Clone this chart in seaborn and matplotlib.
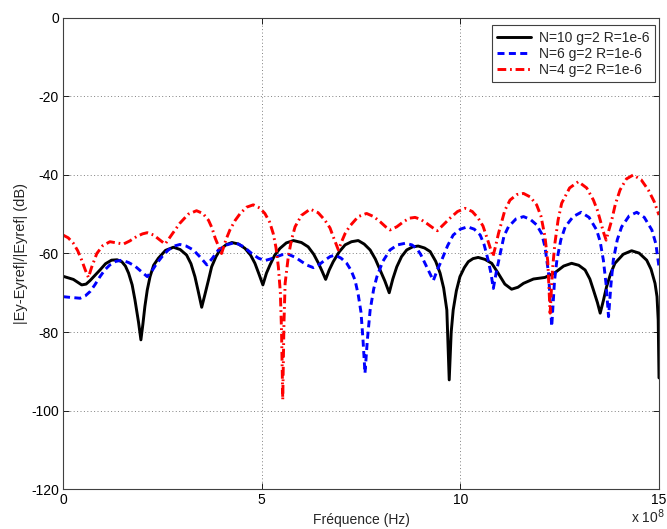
import matplotlib
matplotlib.use("Agg")
import matplotlib.pyplot as plt
import seaborn as sns
import pandas as pd

# Frequency axis in units of 1e8 Hz, error level in dB
freq_n10 = [0.0, 0.26, 0.47, 0.58, 0.68, 0.80, 0.93, 1.07, 1.22, 1.36, 1.48, 1.57, 1.65, 1.74,
            1.81, 1.90, 1.96, 2.01, 2.06, 2.12, 2.19, 2.28, 2.40, 2.58, 2.78, 2.95, 3.11, 3.22,
            3.32, 3.40, 3.49, 3.57, 3.66, 3.74, 3.85, 3.95, 4.10, 4.25, 4.42, 4.58, 4.72, 4.83,
            4.93, 5.03, 5.12, 5.21, 5.33, 5.46, 5.62, 5.80, 6.00, 6.17, 6.31, 6.43, 6.52, 6.61,
            6.70, 6.80, 6.95, 7.10, 7.26, 7.43, 7.58, 7.73, 7.86, 7.98, 8.10, 8.21, 8.30, 8.40,
            8.52, 8.65, 8.80, 8.94, 9.10, 9.24, 9.38, 9.49, 9.58, 9.66, 9.72, 9.77, 9.82, 9.90,
            9.99, 10.10, 10.20, 10.32, 10.45, 10.62, 10.79, 10.95, 11.12, 11.29, 11.45, 11.59,
            11.84, 12.13, 12.38, 12.60, 12.80, 12.98, 13.14, 13.26, 13.35, 13.45, 13.52, 13.60,
            13.68, 13.78, 13.89, 14.10, 14.31, 14.50, 14.69, 14.80, 14.90, 14.95, 14.98, 15.0]
db_n10 = [-65.8, -66.6, -68.0, -67.8, -66.9, -65.6, -64.2, -62.6, -61.7, -61.6, -62.1, -63.2,
          -65.0, -68.0, -71.8, -77.5, -82.0, -78.0, -73.5, -69.3, -65.9, -63.0, -61.2, -59.2,
          -58.4, -59.0, -60.4, -62.6, -65.9, -69.5, -73.7, -70.5, -66.8, -63.4, -60.8, -59.1,
          -57.8, -57.2, -57.6, -58.7, -60.4, -62.5, -65.2, -68.0, -65.0, -62.9, -60.4, -58.7,
          -57.3, -56.7, -57.2, -58.3, -60.2, -62.5, -64.5, -66.6, -64.2, -62.1, -59.6, -57.8,
          -57.0, -56.7, -57.6, -59.1, -61.4, -64.2, -67.0, -70.0, -66.5, -63.4, -60.8, -59.1,
          -58.3, -58.1, -58.6, -59.5, -62.0, -65.0, -68.8, -74.4, -92.2, -80.0, -74.4, -69.5,
          -65.9, -63.6, -62.1, -61.3, -61.0, -61.5, -62.5, -65.0, -67.8, -69.1, -68.6, -67.6,
          -66.5, -66.1, -64.9, -63.2, -62.5, -63.0, -64.2, -66.5, -69.3, -72.5, -75.2, -72.0,
          -68.5, -65.2, -62.5, -60.2, -59.3, -59.9, -61.7, -64.0, -67.6, -71.0, -76.9, -91.7]

freq_n6 = [0.0, 0.20, 0.43, 0.56, 0.68, 0.80, 0.93, 1.05, 1.18, 1.33, 1.48, 1.65, 1.81, 1.97,
           2.12, 2.24, 2.36, 2.50, 2.65, 2.80, 2.94, 3.10, 3.28, 3.45, 3.62, 3.76, 3.91, 4.12,
           4.33, 4.55, 4.75, 4.92, 5.08, 5.22, 5.38, 5.52, 5.67, 5.85, 6.01, 6.15, 6.30, 6.45,
           6.59, 6.72, 6.85, 7.00, 7.14, 7.25, 7.35, 7.43, 7.50, 7.55, 7.60, 7.66, 7.73, 7.82,
           7.90, 8.05, 8.23, 8.42, 8.61, 8.78, 8.90, 9.00, 9.11, 9.22, 9.32, 9.42, 9.53, 9.68,
           9.82, 10.00, 10.18, 10.35, 10.50, 10.60, 10.70, 10.77, 10.83, 10.90, 11.00, 11.10,
           11.21, 11.40, 11.59, 11.76, 11.92, 12.05, 12.13, 12.22, 12.30, 12.37, 12.43, 12.53,
           12.64, 12.84, 13.04, 13.24, 13.43, 13.52, 13.60, 13.67, 13.73, 13.79, 13.85, 13.95,
           14.06, 14.25, 14.44, 14.63, 14.82, 14.92, 15.0]
db_n6 = [-71.0, -71.2, -71.4, -70.8, -69.7, -68.0, -65.9, -64.2, -62.9, -62.0, -61.7, -62.3,
         -63.2, -64.6, -65.9, -64.4, -62.5, -60.7, -59.1, -58.1, -57.7, -58.1, -59.1, -60.9,
         -62.9, -61.2, -59.1, -57.8, -57.2, -58.3, -60.0, -61.2, -61.8, -61.4, -60.8, -60.3,
         -60.2, -61.0, -62.1, -63.0, -63.6, -62.8, -61.7, -60.8, -60.4, -61.2, -62.5, -64.3,
         -66.8, -70.5, -75.0, -82.0, -90.5, -82.0, -74.4, -69.0, -65.9, -62.0, -59.1, -57.8,
         -57.4, -57.8, -58.7, -60.2, -62.5, -64.8, -66.9, -64.2, -61.7, -58.0, -55.3, -53.8,
         -53.2, -53.8, -55.3, -57.8, -61.7, -65.0, -68.9, -65.0, -60.2, -55.5, -53.2, -51.2,
         -50.6, -51.3, -52.7, -55.0, -58.3, -65.0, -78.6, -67.0, -61.7, -56.5, -53.2, -50.6,
         -49.5, -50.8, -54.0, -57.0, -61.7, -68.0, -76.1, -68.0, -61.7, -56.5, -53.2, -50.4,
         -49.5, -50.8, -54.0, -57.5, -63.4]

freq_n4 = [0.0, 0.13, 0.26, 0.37, 0.47, 0.56, 0.64, 0.72, 0.85, 1.00, 1.18, 1.35, 1.52, 1.68,
           1.85, 2.00, 2.12, 2.28, 2.43, 2.57, 2.75, 2.94, 3.15, 3.36, 3.52, 3.66, 3.75, 3.83,
           3.92, 3.99, 4.10, 4.20, 4.33, 4.46, 4.62, 4.79, 4.95, 5.08, 5.20, 5.29, 5.36, 5.42,
           5.47, 5.50, 5.53, 5.56, 5.59, 5.67, 5.75, 5.84, 6.00, 6.22, 6.42, 6.59, 6.72, 6.80,
           6.93, 7.02, 7.10, 7.22, 7.43, 7.64, 7.82, 7.98, 8.12, 8.23, 8.40, 8.57, 8.72, 8.86,
           9.00, 9.15, 9.30, 9.42, 9.58, 9.74, 9.93, 10.12, 10.30, 10.45, 10.57, 10.66, 10.75,
           10.82, 10.89, 10.96, 11.12, 11.25, 11.42, 11.59, 11.76, 11.92, 12.03, 12.13, 12.20,
           12.26, 12.32, 12.38, 12.46, 12.55, 12.75, 12.97, 13.18, 13.35, 13.45, 13.52, 13.60,
           13.67, 13.74, 13.81, 13.90, 14.02, 14.18, 14.35, 14.55, 14.73, 14.88, 15.0]
db_n4 = [-55.3, -56.0, -57.4, -59.3, -61.7, -64.2, -66.1, -63.5, -60.0, -58.0, -57.0, -57.3,
         -57.6, -56.8, -55.7, -55.0, -54.7, -55.3, -56.5, -57.6, -55.0, -52.3, -50.0, -49.1,
         -49.8, -51.5, -53.5, -56.1, -58.3, -60.0, -56.5, -54.0, -51.6, -49.8, -48.2, -47.6,
         -48.4, -49.8, -52.0, -54.9, -58.5, -63.4, -70.0, -80.0, -97.3, -78.0, -67.6, -60.8,
         -56.5, -53.2, -50.3, -48.7, -49.6, -51.5, -53.5, -55.7, -59.1, -56.8, -54.9, -53.0,
         -50.6, -49.8, -50.6, -51.9, -53.2, -54.0, -53.2, -51.9, -51.0, -50.8, -51.3, -52.3,
         -53.4, -54.2, -52.6, -51.0, -49.3, -48.5, -49.3, -51.0, -53.0, -55.7, -58.5, -60.8,
         -58.0, -54.9, -49.0, -46.4, -45.0, -44.7, -45.6, -47.6, -50.5, -55.7, -62.0, -75.2,
         -64.0, -57.4, -51.5, -47.2, -43.3, -41.7, -43.3, -46.4, -49.0, -51.5, -54.5, -56.6,
         -54.0, -51.5, -47.5, -43.8, -41.0, -40.0, -41.2, -43.8, -46.8, -50.2]

series_labels = ["N=10 g=2 R=1e-6", "N=6 g=2 R=1e-6", "N=4 g=2 R=1e-6"]
x_ticks = [0, 5, 10, 15]
y_ticks = [0, -20, -40, -60, -80, -100, -120]

sns.set_style("ticks")
plt.rcParams["font.family"] = ["Liberation Sans", "DejaVu Sans"]
plt.rcParams["font.size"] = 10

fig = plt.figure(figsize=(6.67, 5.29), dpi=100)
ax = fig.add_axes([0.0945, 0.0756, 0.8935, 0.8904])

frames = [
    pd.DataFrame({"f": freq_n10, "db": db_n10}),
    pd.DataFrame({"f": freq_n6, "db": db_n6}),
    pd.DataFrame({"f": freq_n4, "db": db_n4}),
]
colors = ["black", "#0000ff", "#ff0000"]
dash_styles = ["-", (0, (2.4, 1.5)), (0, (3.0, 1.3, 0.6, 1.3))]

for df, lab, col, ls in zip(frames, series_labels, colors, dash_styles):
    sns.lineplot(data=df, x="f", y="db", ax=ax, color=col, linestyle=ls,
                 linewidth=2.1, label=lab, sort=False, estimator=None)

ax.set_xlim(0, 15)
ax.set_ylim(-120, 0)
ax.set_xticks(x_ticks)
ax.set_yticks(y_ticks)
ax.set_xticklabels([str(t) for t in x_ticks])
ax.set_yticklabels([str(t) for t in y_ticks])
ax.grid(True, linestyle=(0, (1, 2.5)), color="#808080", linewidth=0.7)
ax.tick_params(direction="in", top=True, right=True, length=4, width=0.6,
               labelsize=10, colors="black", pad=3)
for sp in ax.spines.values():
    sp.set_visible(True)
    sp.set_color("#404040")
    sp.set_linewidth(0.8)

ax.set_xlabel("Fréquence (Hz)", fontsize=10, labelpad=4)
ax.set_ylabel("|Ey-Eyref|/|Eyref| (dB)", fontsize=10.5, labelpad=2)
fig.text(0.997, 0.006, r"x 10$^{8}$", fontsize=10, ha="right", va="bottom")

leg = ax.legend(loc="upper right", bbox_to_anchor=(0.9933, 0.985), borderaxespad=0,
                frameon=True, fancybox=False, edgecolor="#404040", framealpha=1,
                handlelength=2.4, handletextpad=0.6, borderpad=0.4,
                labelspacing=0.15, fontsize=10)
leg.get_frame().set_linewidth(0.8)

fig.savefig("out.png", dpi=100)
